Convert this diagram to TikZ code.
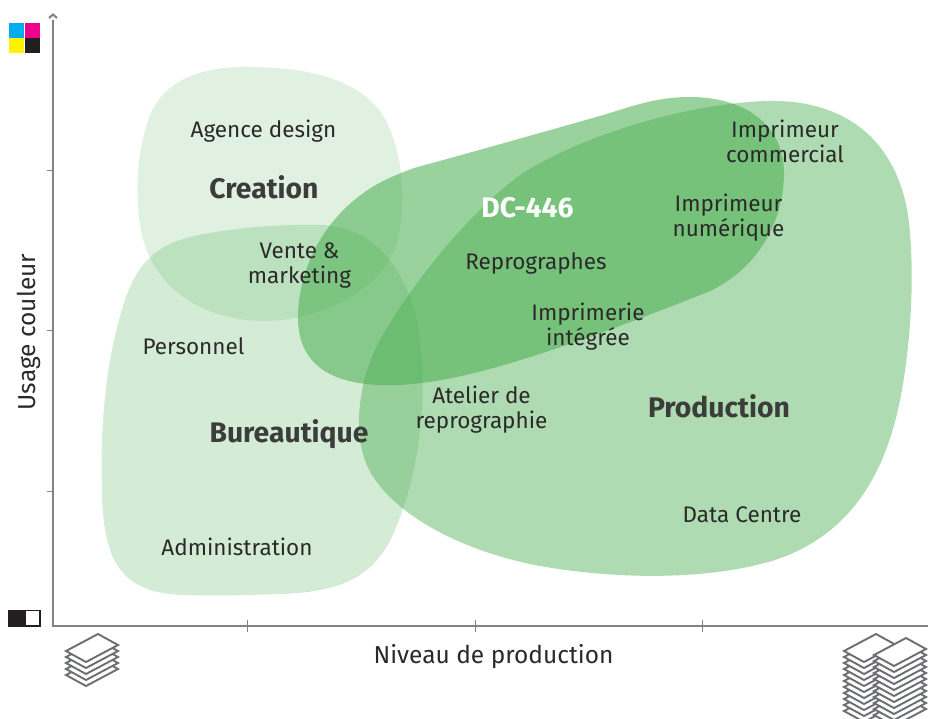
\documentclass[tikz,border=0pt]{standalone}
\usepackage{fontspec}
\setmainfont{Fira Sans}
\definecolor{zgreen}{HTML}{4DB053}
\definecolor{zgray}{HTML}{808285}
\definecolor{ztext}{HTML}{2B2A29}
\definecolor{zhead}{HTML}{3C3C3B}
\definecolor{zstack}{HTML}{6D6E71}
\definecolor{zcyan}{HTML}{00AEEF}
\definecolor{zmag}{HTML}{EC008C}
\definecolor{zyel}{HTML}{FFF200}
\definecolor{zblk}{HTML}{231F20}
\tikzset{
 blobA/.style={fill=zgreen,fill opacity=.17,draw=none},
 blobB/.style={fill=zgreen,fill opacity=.24,draw=none},
 blobC/.style={fill=zgreen,fill opacity=.45,draw=none},
 blobD/.style={fill=zgreen,fill opacity=.57,draw=none},
 lbl/.style={font=\fontsize{22.5}{25}\selectfont,text=ztext,align=center,inner sep=0pt},
 axlbl/.style={font=\fontsize{24.5}{25}\selectfont,text=ztext,align=center,inner sep=0pt},
 head/.style={font=\fontsize{28.3}{25}\selectfont\bfseries,text=zhead,align=center,inner sep=0pt},
 axisline/.style={draw=zgray,line width=2.4pt},
 tickline/.style={draw=zgray,line width=.8pt},
 paper/.style={draw=zstack,line width=1.9pt,line join=miter,fill=white},
}
\newcommand{\paperstack}[3]{%
  \begin{scope}[shift={(#1,#2)}]
   \foreach \k in {#3,...,1}{
     \draw[paper] (0,{6*(\k-1)+17}) -- (32,{6*(\k-1)}) -- (52,{6*(\k-1)+11}) -- (20,{6*(\k-1)+28}) -- cycle;
   }
  \end{scope}
}
\begin{document}
\begin{tikzpicture}[x=1pt,y=-1pt]
\useasboundingbox (0,0) rectangle (928,718);
\fill[white] (0,0) rectangle (928,718);
% blobs
\fill[blobA] (240,67) .. controls (310,66) and (375,80) .. (392,135)
  .. controls (404,165) and (406,215) .. (396,245)
  .. controls (380,295) and (310,322) .. (262,321)
  .. controls (205,320) and (150,290) .. (140,225)
  .. controls (135,190) and (137,150) .. (150,115)
  .. controls (165,80) and (200,68) .. (240,67) -- cycle;
\fill[blobB] (320,225) .. controls (375,226) and (405,270) .. (417,320)
  .. controls (430,390) and (420,470) .. (395,530)
  .. controls (375,578) and (340,592) .. (280,594)
  .. controls (250,595) and (215,596) .. (190,595)
  .. controls (150,595) and (125,585) .. (112,555)
  .. controls (104,535) and (102,510) .. (102,490)
  .. controls (100,430) and (105,360) .. (125,300)
  .. controls (140,255) and (165,240) .. (210,233)
  .. controls (245,227) and (285,224) .. (320,225) -- cycle;
\fill[blobC] (770,101) .. controls (840,100) and (895,135) .. (908,215)
  .. controls (916,275) and (910,350) .. (900,400)
  .. controls (885,475) and (850,535) .. (775,560)
  .. controls (710,580) and (620,580) .. (540,566)
  .. controls (470,553) and (400,520) .. (372,475)
  .. controls (350,440) and (358,380) .. (380,340)
  .. controls (405,295) and (460,220) .. (520,175)
  .. controls (590,130) and (700,102) .. (770,101) -- cycle;
\fill[blobD] (690,97) .. controls (745,97) and (785,125) .. (784,175)
  .. controls (783,225) and (755,270) .. (710,291)
  .. controls (680,303) and (600,335) .. (530,357)
  .. controls (480,373) and (425,387) .. (380,385)
  .. controls (325,383) and (297,360) .. (298,315)
  .. controls (300,255) and (335,205) .. (385,180)
  .. controls (398,174) and (412,168) .. (425,165)
  .. controls (480,150) and (550,130) .. (600,116)
  .. controls (630,107) and (655,97) .. (690,97) -- cycle;
% axes
\coordinate (origin) at (53,626);
\coordinate (ytop) at (53,20);
\coordinate (xend) at (928,626);
\draw[axisline] (ytop) -- (origin) -- (xend);
\draw[zgray,line width=2pt] (49,18) -- (53,14.5) -- (57,18);
\foreach \y in {170,330,491} \draw[tickline] (47,\y) -- (53,\y);
\foreach \x in {247,475,702} \draw[tickline] (\x,620) -- (\x,632);
% CMYK
\fill[zcyan] (9,23) rectangle (24,38);
\fill[zmag] (25,23) rectangle (40,38);
\fill[zyel] (9,38) rectangle (24,53);
\fill[zblk] (25,38) rectangle (40,53);
% toggle
\fill[zblk] (8,609.5) rectangle (25,627);
\draw[zblk,line width=1.7pt,fill=white] (25,610.4) rectangle (40.3,626.2);
% stacks
\paperstack{66}{634}{5}
\paperstack{844}{634}{11}
\paperstack{874}{638}{11}
% labels
\node[lbl] (agence) at (263.5,131.5) {Agence design};
\node[head] (creation) at (264,187) {Creation};
\node[lbl] (vente) at (299.5,265.5) {Vente \&\\marketing};
\node[lbl] (personnel) at (193.5,346) {Personnel};
\node[head] (bureau) at (289,434) {Bureautique};
\node[lbl] (admin) at (237,547) {Administration};
\node[head,text=white] (dc) at (527.5,207.5) {DC-446};
\node[lbl] (repro) at (536,263) {Reprographes};
\node[lbl] (integree) at (588,327) {Imprimerie\\intégrée};
\node[lbl] (atelier) at (481.5,410) {Atelier de\\reprographie};
\node[head] (prod) at (719,406) {Production};
\node[lbl] (datac) at (742,515) {Data Centre};
\node[lbl] (commercial) at (785,141.5) {Imprimeur\\commercial};
\node[lbl] (numerique) at (728.5,217.5) {Imprimeur\\numérique};
\node[axlbl] (niveau) at (493.5,657) {Niveau de production};
\node[axlbl,rotate=90] (usage) at (29,332) {Usage couleur};
\end{tikzpicture}
\end{document}
